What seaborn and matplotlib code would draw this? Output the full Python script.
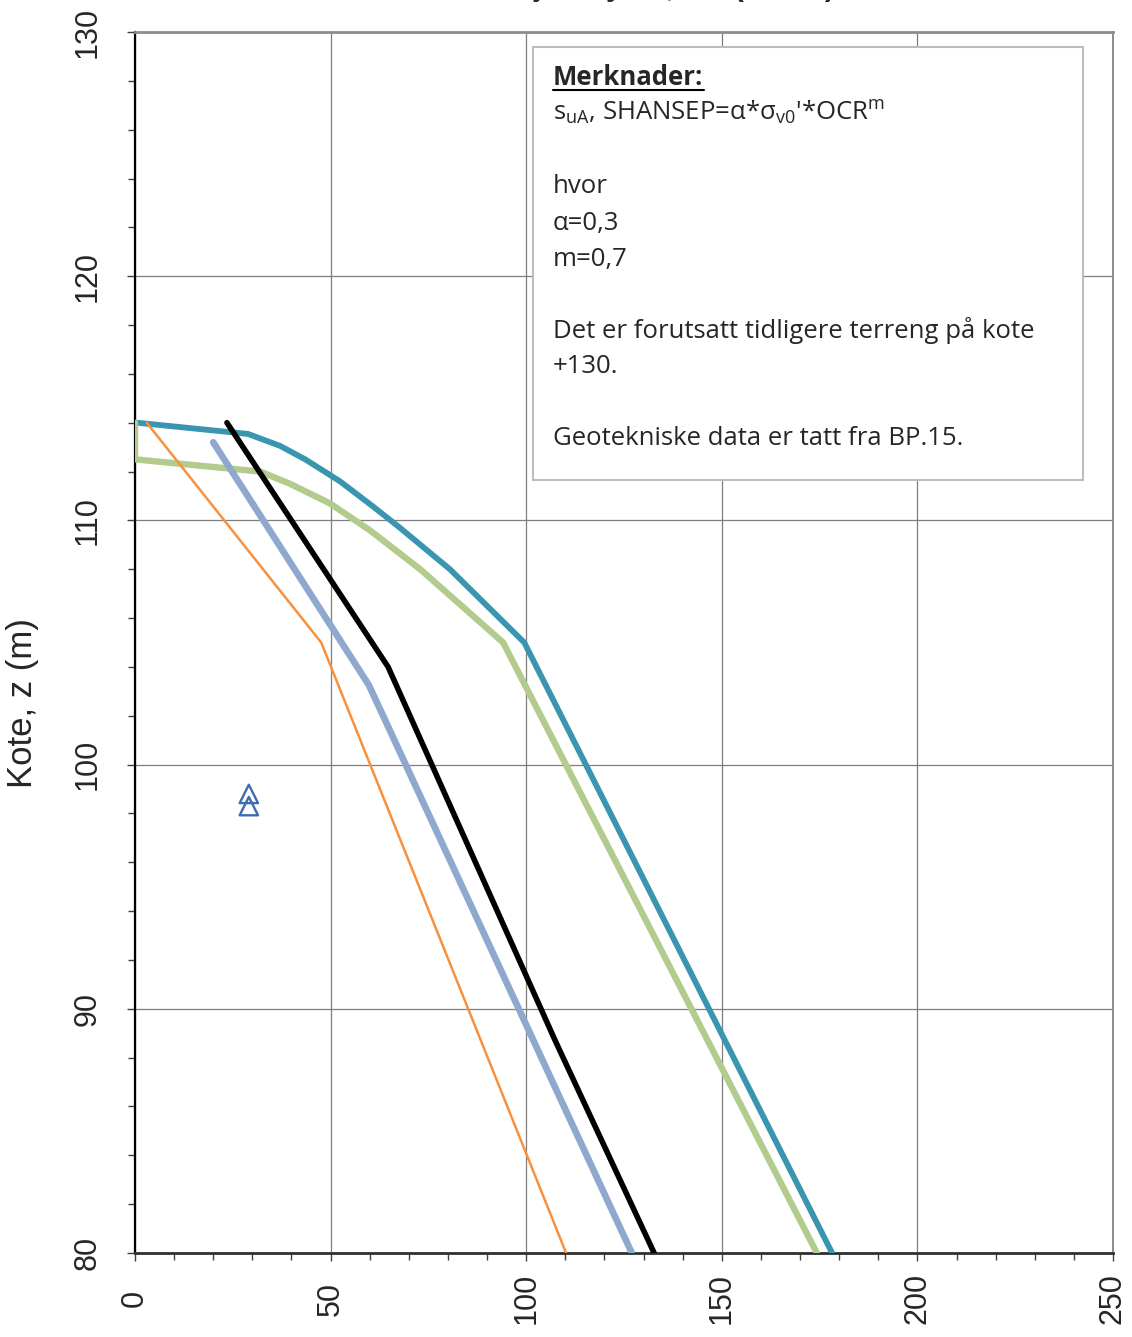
import matplotlib
matplotlib.use("Agg")
import matplotlib.pyplot as plt
import seaborn as sns
import pandas as pd
from matplotlib.patches import Rectangle
from matplotlib.ticker import MultipleLocator

# ---- data ----
teal_su = [0.5, 28.9, 37.1, 43.5, 52.4, 60.6, 67.7, 80.5, 99.5, 178.2]
teal_z = [114.0, 113.54, 113.05, 112.5, 111.6, 110.6, 109.7, 108.0, 105.0, 80.0]

green_su = [0.0, 0.0, 32.0, 39.6, 49.8, 60.0, 72.9, 94.1, 174.3]
green_z = [114.0, 112.5, 112.0, 111.5, 110.7, 109.6, 108.0, 105.0, 80.0]

black_su = [23.5, 64.7, 107.4, 132.7]
black_z = [114.0, 104.0, 88.7, 80.0]

lblue_su = [20.0, 59.8, 127.0]
lblue_z = [113.2, 103.25, 80.0]

orange_su = [3.0, 47.6, 110.2]
orange_z = [114.0, 105.0, 80.0]

marker_su = [29.1, 29.1]
marker_z = [98.8, 98.3]

x_ticks = [0, 50, 100, 150, 200, 250]
y_ticks = [80, 90, 100, 110, 120, 130]

series = [
    ("teal", teal_su, teal_z, "#3A96B0", 4.2),
    ("green", green_su, green_z, "#B3CB8D", 4.6),
    ("lblue", lblue_su, lblue_z, "#8EA8CE", 4.8),
    ("black", black_su, black_z, "#000000", 4.0),
    ("orange", orange_su, orange_z, "#F7913D", 1.8),
]

sns.set_style("white")
plt.rcParams["font.family"] = ["Liberation Sans", "DejaVu Sans"]

fig = plt.figure(figsize=(11.32, 13.37), dpi=100)
ax = fig.add_axes([135 / 1132, 1 - 1253 / 1337, (1113 - 135) / 1132, (1253 - 32) / 1337])

for name, xs, zs, col, lw in series:
    df = pd.DataFrame({"su": xs, "z": zs})
    sns.lineplot(data=df, x="su", y="z", sort=False, estimator=None,
                 color=col, lw=lw, ax=ax, zorder=3, solid_capstyle="round",
                 solid_joinstyle="miter")

mdf = pd.DataFrame({"su": marker_su, "z": marker_z})
sns.scatterplot(data=mdf, x="su", y="z", marker="^", s=175, facecolor="none",
                edgecolor="#3D6DB0", linewidth=1.7, ax=ax, zorder=4)

ax.set_xlim(0, 250)
ax.set_ylim(80, 130)
ax.xaxis.set_minor_locator(MultipleLocator(10))
ax.yaxis.set_minor_locator(MultipleLocator(2))
ax.set_xticks(x_ticks)
ax.set_yticks(y_ticks)
ax.set_xticklabels([str(v) for v in x_ticks], rotation=90, va="center")
ax.set_yticklabels([str(v) for v in y_ticks], rotation=90, va="center")

ax.tick_params(axis="both", which="both", direction="out", bottom=True, left=True,
               color="#404040", width=1)
ax.tick_params(axis="both", which="major", length=6, labelsize=22)
ax.tick_params(axis="both", which="minor", length=5)
ax.tick_params(axis="x", which="major", pad=27)
ax.tick_params(axis="y", which="major", pad=17)

ax.grid(which="major", color="#7F7F7F", lw=0.9, zorder=0)
ax.set_axisbelow(True)

ax.spines["left"].set_color("#000000")
ax.spines["left"].set_linewidth(1.6)
ax.spines["bottom"].set_color("#303030")
ax.spines["bottom"].set_linewidth(2.0)
ax.spines["top"].set_color("#8C8C8C")
ax.spines["top"].set_linewidth(2.0)
ax.spines["right"].set_color("#8C8C8C")
ax.spines["right"].set_linewidth(1.4)

ax.set_xlabel("")
ax.set_ylabel("Kote, z (m)", fontsize=25)
ax.yaxis.set_label_coords(-0.098, 0.45)

# title (cut off at the top edge in the reference)
fig.text((135 + 1113) / 2 / 1132 - 0.018, 1 + 3.5 / 1337,
         r"Udrenert skjærstyrke, $\mathregular{s_{uA}}$ (kN/m²)", ha="center",
         va="baseline", fontsize=21, fontweight="bold")

# note box
box = Rectangle((0.407, 0.633), 0.562, 0.355, transform=ax.transAxes,
                facecolor="white", edgecolor="#BDBDBD", lw=1.5, zorder=5)
ax.add_patch(box)

tx = 0.4274
fs = 18.5
tfam = ["Open Sans", "DejaVu Sans"]
ax.text(tx, 0.9566, "Merknader:", transform=ax.transAxes, fontsize=fs,
        fontweight="bold", family=tfam, zorder=6)
ax.plot([tx, 0.5815], [0.9525, 0.9525], transform=ax.transAxes, color="black",
        lw=1.5, zorder=6)
ax.text(tx, 0.9271,
        r"$\mathregular{s_{uA}}$, SHANSEP=α*$\mathregular{σ_{v0}}$'*OCR$\mathregular{^{m}}$",
        transform=ax.transAxes, fontsize=fs, family=tfam, zorder=6)
lines = [
    (0.8681, "hvor"),
    (0.8378, "α=0,3"),
    (0.8084, "m=0,7"),
    (0.7494, "Det er forutsatt tidligere terreng på kote"),
    (0.7207, "+130."),
    (0.6618, "Geotekniske data er tatt fra BP.15."),
]
for yy, s in lines:
    ax.text(tx, yy, s, transform=ax.transAxes, fontsize=fs, family=tfam, zorder=6)

if ax.get_legend() is not None:
    ax.get_legend().remove()

fig.savefig("out.png", dpi=100)
